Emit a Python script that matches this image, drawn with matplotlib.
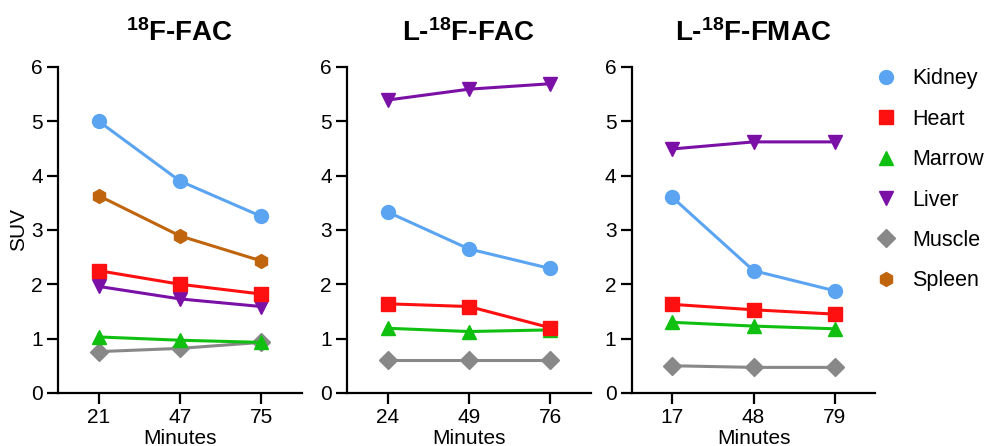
import matplotlib
matplotlib.use("Agg")
import matplotlib.pyplot as plt
from matplotlib.lines import Line2D

plt.rcParams['font.family'] = ['Liberation Sans', 'DejaVu Sans']
plt.rcParams['mathtext.fontset'] = 'custom'
plt.rcParams['mathtext.rm'] = 'Liberation Sans'
plt.rcParams['mathtext.bf'] = 'Liberation Sans:bold'

# data
organs = ["Kidney", "Heart", "Marrow", "Liver", "Muscle", "Spleen"]
colors = {"Kidney": "#5aa4f2", "Heart": "#ff1010", "Marrow": "#10c010",
          "Liver": "#7a10a6", "Muscle": "#888888", "Spleen": "#c0640e"}
markers = {"Kidney": "o", "Heart": "s", "Marrow": "^",
           "Liver": "v", "Muscle": "D", "Spleen": "h"}

titles = [r"$\mathbf{^{18}}$F-FAC", r"L-$\mathbf{^{18}}$F-FAC", r"L-$\mathbf{^{18}}$F-FMAC"]
minutes = [["21", "47", "75"], ["24", "49", "76"], ["17", "48", "79"]]

fac_kidney = [5.0, 3.9, 3.25]
fac_heart = [2.25, 2.0, 1.82]
fac_marrow = [1.03, 0.97, 0.93]
fac_liver = [1.96, 1.73, 1.59]
fac_muscle = [0.76, 0.82, 0.93]
fac_spleen = [3.63, 2.89, 2.43]

lfac_kidney = [3.33, 2.65, 2.29]
lfac_heart = [1.64, 1.59, 1.2]
lfac_marrow = [1.19, 1.13, 1.16]
lfac_liver = [5.39, 5.59, 5.69]
lfac_muscle = [0.6, 0.6, 0.6]

fmac_kidney = [3.6, 2.25, 1.88]
fmac_heart = [1.63, 1.53, 1.45]
fmac_marrow = [1.3, 1.23, 1.18]
fmac_liver = [4.49, 4.62, 4.62]
fmac_muscle = [0.5, 0.47, 0.47]

panels = [
    {"Kidney": fac_kidney, "Heart": fac_heart, "Marrow": fac_marrow,
     "Liver": fac_liver, "Muscle": fac_muscle, "Spleen": fac_spleen},
    {"Kidney": lfac_kidney, "Heart": lfac_heart, "Marrow": lfac_marrow,
     "Liver": lfac_liver, "Muscle": lfac_muscle},
    {"Kidney": fmac_kidney, "Heart": fmac_heart, "Marrow": fmac_marrow,
     "Liver": fmac_liver, "Muscle": fmac_muscle},
]

# draw order so the overlaps look like the original
draw_order = ["Muscle", "Marrow", "Liver", "Heart", "Spleen", "Kidney"]

fig = plt.figure(figsize=(9.87, 4.46), dpi=100)
lefts = [0.0588, 0.3516, 0.640]

for i, data in enumerate(panels):
    ax = fig.add_axes([lefts[i], 0.119, 0.247, 0.731])
    x = range(len(minutes[i]))
    for org in draw_order:
        if org not in data:
            continue
        ax.plot(x, data[org], color=colors[org], marker=markers[org],
                markersize=10 if markers[org] != "D" else 9, lw=2.2, zorder=3)
    ax.set_xlim(-0.5, 2.5)
    ax.set_ylim(0, 6)
    ax.set_yticks(range(7))
    ax.set_xticks(list(x))
    ax.set_xticklabels(minutes[i])
    for s in ["top", "right"]:
        ax.spines[s].set_visible(False)
    for s in ["left", "bottom"]:
        ax.spines[s].set_linewidth(1.6)
    ax.tick_params(width=1.6, length=8, labelsize=15, pad=3)
    ax.set_xlabel("Minutes", fontsize=15, labelpad=1)
    ax.set_title(titles[i], fontsize=20, fontweight="bold", pad=19)
    if i == 0:
        ax.set_ylabel("SUV", fontsize=15, labelpad=2)

handles = [Line2D([], [], ls="none", color=colors[o], marker=markers[o],
                  markersize=10 if markers[o] != "D" else 9) for o in organs]
fig.legend(handles, organs, loc="upper left", bbox_to_anchor=(0.878, 0.866),
           frameon=False, fontsize=15.5, handlelength=1.0, handletextpad=0.7,
           labelspacing=0.9, borderaxespad=0)

fig.savefig("out.png", dpi=100)
